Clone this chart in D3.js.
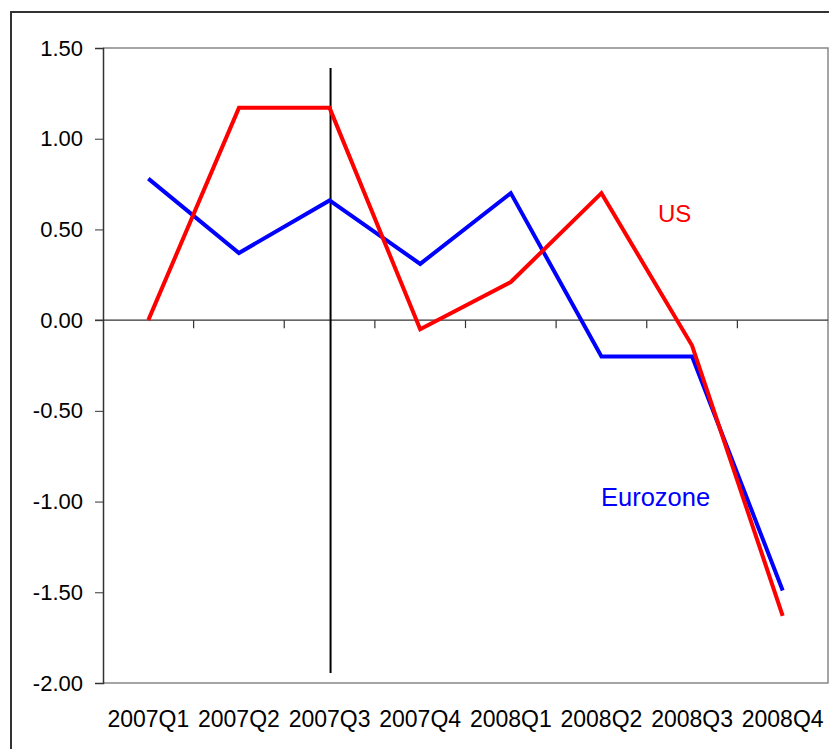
<!DOCTYPE html>
<html>
<head>
<meta charset="utf-8">
<script src="https://cdn.jsdelivr.net/npm/d3@7"></script>
<style>
  body { margin: 0; background: #fff; }
  svg { display: block; font-family: "Liberation Sans", Arial, sans-serif; }
</style>
</head>
<body>
<svg id="chart"></svg>
<script>
const quarters = ['2007Q1', '2007Q2', '2007Q3', '2007Q4', '2008Q1', '2008Q2', '2008Q3', '2008Q4'];
const usValues = [0.00, 1.17, 1.17, -0.05, 0.21, 0.70, -0.14, -1.63];
const euroValues = [0.78, 0.37, 0.66, 0.31, 0.70, -0.20, -0.20, -1.49];
const yTicks = [1.5, 1.0, 0.5, 0.0, -0.5, -1.0, -1.5, -2.0];
const markerQuarter = '2007Q3';

const width = 829;
const height = 749;
const margin = { top: 48, right: 1, bottom: 66, left: 103 };

const svg = d3.select('#chart')
  .attr('width', width)
  .attr('height', height);

// outer frame (runs off the right / bottom edges)
svg.append('path')
  .attr('d', `M11,${height + 5} V12 H${width + 5}`)
  .attr('fill', 'none')
  .attr('stroke', '#333')
  .attr('stroke-width', 2);

const x = d3.scaleBand()
  .domain(quarters)
  .range([margin.left, width - margin.right]);

const y = d3.scaleLinear()
  .domain([-2, 1.5])
  .range([height - margin.bottom, margin.top]);

// plot area border (grey)
svg.append('path')
  .attr('d', `M${margin.left},${y(1.5)} H${x.range()[1]} V${y(-2)} H${margin.left}`)
  .attr('fill', 'none')
  .attr('stroke', '#888')
  .attr('stroke-width', 1.5);

// y axis
const yAxis = svg.append('g')
  .attr('transform', `translate(${margin.left},0)`)
  .call(d3.axisLeft(y).tickValues(yTicks).tickFormat(d3.format('.2f')).tickSize(8).tickPadding(12));
yAxis.select('.domain').attr('stroke', '#333').attr('stroke-width', 1.5);
yAxis.selectAll('.tick line').attr('stroke', '#333');
yAxis.selectAll('text')
  .attr('font-size', 22)
  .attr('fill', '#000')
  .attr('font-family', '"Liberation Sans", Arial, sans-serif')
  .text(d => d3.format('.2f')(d).replace('−', '-'));

// zero line with tick marks between categories
const xAxis = svg.append('g')
  .attr('transform', `translate(0,${y(0)})`);
xAxis.append('line')
  .attr('x1', margin.left - 8)
  .attr('x2', x.range()[1])
  .attr('stroke', '#333')
  .attr('stroke-width', 1.2);
xAxis.selectAll('.qtick')
  .data(quarters.slice(1))
  .enter()
  .append('line')
  .attr('class', 'qtick')
  .attr('x1', d => x(d))
  .attr('x2', d => x(d))
  .attr('y1', 0)
  .attr('y2', 8)
  .attr('stroke', '#333')
  .attr('stroke-width', 1.2);

// category labels under the plot
svg.selectAll('.qlabel')
  .data(quarters)
  .enter()
  .append('text')
  .attr('class', 'qlabel')
  .attr('x', d => x(d) + x.bandwidth() / 2)
  .attr('y', 727)
  .attr('text-anchor', 'middle')
  .attr('font-size', 23)
  .attr('fill', '#000')
  .text(d => d);

// vertical marker line
svg.append('line')
  .attr('x1', x(markerQuarter) + x.bandwidth() / 2 + 1)
  .attr('x2', x(markerQuarter) + x.bandwidth() / 2 + 1)
  .attr('y1', 68)
  .attr('y2', 673)
  .attr('stroke', '#000')
  .attr('stroke-width', 2);

const line = d3.line()
  .x((d, i) => x(quarters[i]) + x.bandwidth() / 2)
  .y(d => y(d));

svg.append('path')
  .datum(euroValues)
  .attr('d', line)
  .attr('fill', 'none')
  .attr('stroke', '#0000ff')
  .attr('stroke-width', 4);

svg.append('path')
  .datum(usValues)
  .attr('d', line)
  .attr('fill', 'none')
  .attr('stroke', '#ff0000')
  .attr('stroke-width', 4);

// series labels
svg.append('text')
  .attr('x', 658)
  .attr('y', 222)
  .attr('font-size', 24)
  .attr('fill', '#ff0000')
  .text('US');

svg.append('text')
  .attr('x', 601)
  .attr('y', 506)
  .attr('font-size', 25.5)
  .attr('fill', '#0000ff')
  .text('Eurozone');
</script>
</body>
</html>
